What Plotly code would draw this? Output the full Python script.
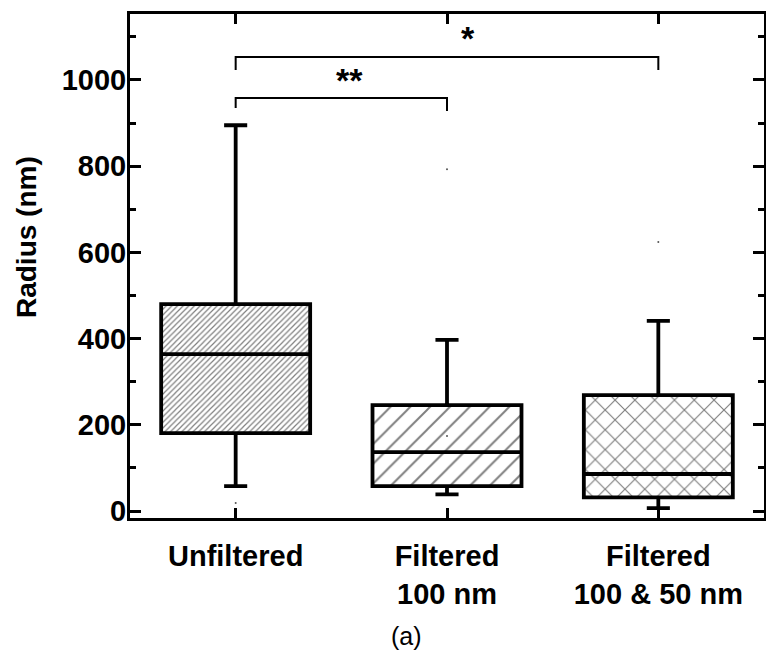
import plotly.graph_objects as go

# Group labels and box statistics (radius in nm)
groups = ["Unfiltered", "Filtered<br>100 nm", "Filtered<br>100 &amp; 50 nm"]
positions = [0, 1, 2]
q1 = [181, 58, 32]
median = [364, 137, 86]
q3 = [480, 246, 269]
lower_whisker = [58, 39, 7]
upper_whisker = [895, 397, 441]

# Individual extreme points / mean marks
extra_x = [0, 1, 1, 2]
extra_y = [19, 793, 174, 624]

# Fill patterns for each box
pattern_shapes = ["/", "/", "x"]
pattern_sizes = [4, 14, 14]
pattern_solidity = [0.3, 0.14, 0.16]

# Significance brackets: [left x, right x, left foot, bar level, right foot]
brackets = [
    (0, 1, 935, 958, 928),
    (0, 2, 1023, 1053, 1023),
]
star_labels = ["**", "*"]
star_x = [0.54, 1.1]
star_y = [1000, 1098]

font_family = "Liberation Sans, Arial, sans-serif"
box_width = 0.705

fig = go.Figure()

# Patterned box bodies
fig.add_trace(go.Bar(
    x=positions,
    y=[b - a for a, b in zip(q1, q3)],
    base=q1,
    width=box_width,
    marker=dict(
        color="white",
        line=dict(width=0),
        pattern=dict(
            shape=pattern_shapes,
            size=pattern_sizes,
            solidity=pattern_solidity,
            fgcolor="black",
            bgcolor="white",
            fillmode="overlay",
        ),
    ),
    showlegend=False,
    hoverinfo="skip",
))

# Box outlines, medians and whiskers
fig.add_trace(go.Box(
    x=positions,
    q1=q1,
    median=median,
    q3=q3,
    lowerfence=lower_whisker,
    upperfence=upper_whisker,
    width=box_width,
    whiskerwidth=0.155,
    fillcolor="rgba(0,0,0,0)",
    line=dict(color="black", width=3.8),
    boxpoints=False,
    showlegend=False,
))

fig.add_trace(go.Scatter(
    x=extra_x, y=extra_y, mode="markers",
    marker=dict(size=2, color="#555555"),
    showlegend=False, hoverinfo="skip",
))

for (xa, xb, ya, yb, yc) in brackets:
    fig.add_trace(go.Scatter(
        x=[xa, xa, xb, xb], y=[ya, yb, yb, yc], mode="lines",
        line=dict(color="black", width=2),
        showlegend=False, hoverinfo="skip",
    ))

for label, sx, sy in zip(star_labels, star_x, star_y):
    fig.add_annotation(
        x=sx, y=sy, xref="x", yref="y", text=label, showarrow=False,
        font=dict(family=font_family, size=34, color="black", weight="bold"),
        xanchor="center", yanchor="middle",
    )

fig.add_annotation(
    x=-0.164, y=0.5575, xref="paper", yref="paper",
    text="<b>Radius (nm)</b>", textangle=-90, showarrow=False,
    font=dict(family=font_family, size=28, color="black"),
    xanchor="center", yanchor="middle",
)

fig.add_annotation(
    x=0.436, y=-0.234, xref="paper", yref="paper",
    text="(a)", showarrow=False,
    font=dict(family=font_family, size=25, color="black"),
    xanchor="center", yanchor="middle",
)

fig.update_xaxes(
    range=[-0.5, 2.5],
    tickvals=positions,
    ticktext=[f"<b>{g}</b>" for g in groups],
    ticks="inside", ticklen=10, tickwidth=3, tickcolor="black",
    showline=True, linewidth=3, linecolor="black", mirror="ticks",
    showgrid=False, zeroline=False,
    tickfont=dict(family=font_family, size=29, color="black"),
    ticklabelstandoff=10,
)

fig.update_yaxes(
    range=[-16, 1153],
    tickvals=[0, 200, 400, 600, 800, 1000],
    ticktext=[f"<b>{v}</b>" for v in [0, 200, 400, 600, 800, 1000]],
    ticks="inside", ticklen=11, tickwidth=3, tickcolor="black",
    minor=dict(dtick=100, ticks="inside", ticklen=6, tickwidth=3, tickcolor="black", showgrid=False),
    showline=True, linewidth=3, linecolor="black", mirror="ticks",
    showgrid=False, zeroline=False,
    tickfont=dict(family=font_family, size=29, color="black"),
    ticklabelstandoff=-5,
)

fig.update_layout(
    width=766, height=650,
    margin=dict(l=130, r=2, t=14, b=132, autoexpand=False),
    plot_bgcolor="white", paper_bgcolor="white",
    bargap=0, barmode="overlay", boxmode="overlay",
)

fig.write_html("out.html")
